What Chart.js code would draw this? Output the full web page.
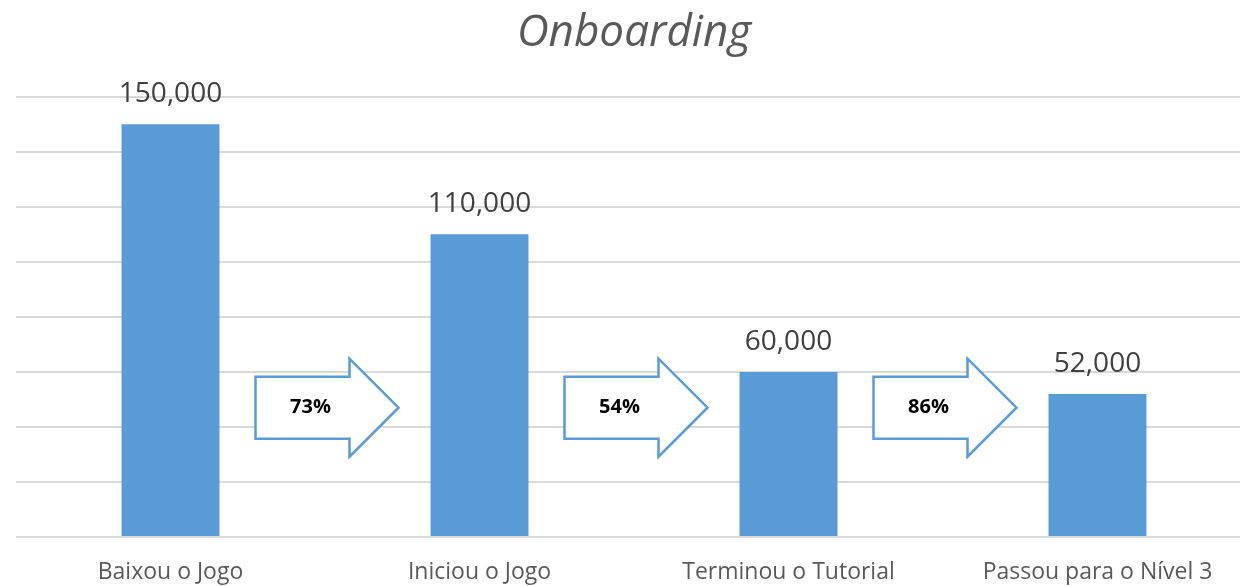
<!DOCTYPE html>
<html>
<head>
<meta charset="utf-8">
<title>Onboarding</title>
<script src="https://cdn.jsdelivr.net/npm/chart.js@4/dist/chart.umd.min.js"></script>
<style>
  html, body { margin: 0; padding: 0; background: #fff; overflow: hidden; }
  #wrap { width: 1256px; height: 586px; }
</style>
</head>
<body>
<div id="wrap"><canvas id="chart"></canvas></div>
<script>
// etapas do funil e número de jogadores em cada uma
const etapas = ["Baixou o Jogo", "Iniciou o Jogo", "Terminou o Tutorial", "Passou para o Nível 3"];
const jogadores = [150000, 110000, 60000, 52000];
// taxa de passagem entre etapas consecutivas
const conversao = ["73%", "54%", "86%"];
// escala do eixo y (só as linhas de grade aparecem)
const yMax = 160000;
const yPasso = 20000;
// altura (no eixo y) onde ficam as setas
const nivelSeta = 47000;

const FONTE = "'Open Sans', sans-serif";
const AZUL = "#5B9BD5";

// rótulos com o valor acima de cada barra
const rotulosValor = {
  id: "rotulosValor",
  afterDatasetsDraw(chart) {
    const ctx = chart.ctx;
    const meta = chart.getDatasetMeta(0);
    ctx.save();
    ctx.font = "28px " + FONTE;
    ctx.fillStyle = "#404040";
    ctx.textAlign = "center";
    ctx.textBaseline = "alphabetic";
    meta.data.forEach((bar, i) => {
      ctx.fillText(jogadores[i].toLocaleString("en-US"), bar.x, bar.y - 22);
    });
    ctx.restore();
  }
};

// setas de conversão entre as barras
const setas = {
  id: "setas",
  afterDatasetsDraw(chart) {
    const { ctx, scales: { x, y } } = chart;
    ctx.save();
    conversao.forEach((txt, i) => {
      const cx = x.getPixelForValue(i + 0.5) + 2;
      const cy = y.getPixelForValue(nivelSeta);
      const left = cx - 71.5, right = cx + 71.5, neck = right - 49;
      ctx.beginPath();
      ctx.moveTo(left, cy - 31);
      ctx.lineTo(neck, cy - 31);
      ctx.lineTo(neck, cy - 49);
      ctx.lineTo(right, cy);
      ctx.lineTo(neck, cy + 49);
      ctx.lineTo(neck, cy + 31);
      ctx.lineTo(left, cy + 31);
      ctx.closePath();
      ctx.fillStyle = "#fff";
      ctx.fill();
      ctx.lineWidth = 2.5;
      ctx.strokeStyle = AZUL;
      ctx.stroke();
      ctx.fillStyle = "#000";
      ctx.font = "bold 20px " + FONTE;
      ctx.textAlign = "center";
      ctx.textBaseline = "middle";
      ctx.fillText(txt, left + 55, cy);
    });
    ctx.restore();
  }
};

new Chart(document.getElementById("chart"), {
  type: "bar",
  data: {
    labels: etapas,
    datasets: [{
      data: jogadores,
      backgroundColor: AZUL,
      categoryPercentage: 1,
      barPercentage: 0.317
    }]
  },
  options: {
    responsive: true,
    maintainAspectRatio: false,
    animation: false,
    layout: { padding: { left: 16, right: 4, top: 0, bottom: 0 } },
    plugins: {
      legend: { display: false },
      tooltip: { enabled: false },
      title: {
        display: true,
        text: "Onboarding",
        color: "#595959",
        font: { family: FONTE, size: 44, style: "italic", weight: "normal" },
        padding: { top: 7, bottom: 37 }
      }
    },
    scales: {
      x: {
        grid: { display: false, drawTicks: false },
        border: { display: false },
        ticks: {
          color: "#595959",
          font: { family: FONTE, size: 23 },
          padding: 22,
          maxRotation: 0,
          autoSkip: false
        },
        // altura fixa do eixo x para a base ficar no lugar certo
        afterFit(scale) { scale.height = 49; }
      },
      y: {
        min: 0,
        max: yMax,
        ticks: { display: false, stepSize: yPasso },
        grid: { color: "#D9D9D9", lineWidth: 2, drawTicks: false },
        border: { display: false }
      }
    }
  },
  plugins: [rotulosValor, setas]
});
</script>
</body>
</html>
